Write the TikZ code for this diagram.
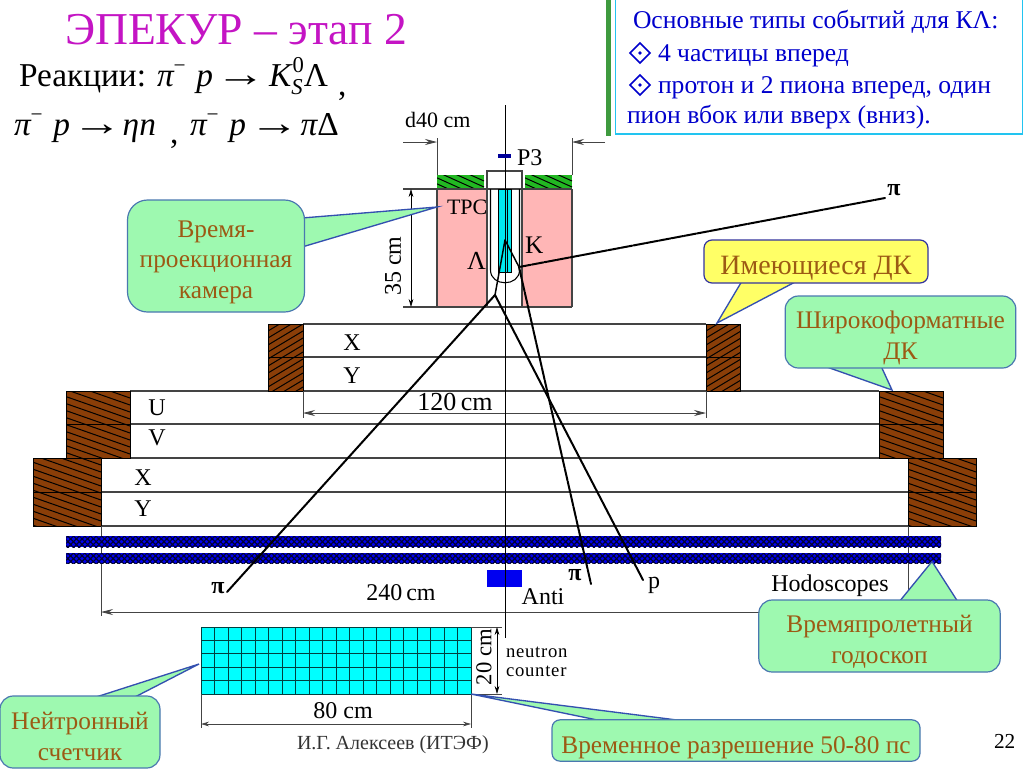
\documentclass[tikz,border=0pt]{standalone}
\usepackage{graphicx}
\usepackage{fontspec}
\setmainfont{Liberation Serif}
\usetikzlibrary{arrows.meta,patterns.meta}
\definecolor{titlec}{HTML}{C414C4}
\definecolor{boxblue}{HTML}{0000CC}
\definecolor{boxborder}{HTML}{22C4F0}
\definecolor{barg}{HTML}{3E9A3E}
\definecolor{calg}{HTML}{9EF9B0}
\definecolor{caly}{HTML}{FFFF66}
\definecolor{calb}{HTML}{4A78B0}
\definecolor{tailb}{HTML}{3450B0}
\definecolor{caltext}{HTML}{9C5A14}
\definecolor{chb}{HTML}{8A3E08}
\definecolor{pinkc}{HTML}{FFB6B6}
\definecolor{greenh}{HTML}{22B822}
\definecolor{cyanc}{HTML}{00E8F0}
\definecolor{gridc}{HTML}{00FFFF}
\definecolor{gline}{HTML}{444444}
\definecolor{blueh}{HTML}{0000F0}
\newfontfamily\spacedserif[LetterSpace=4]{Liberation Serif}
\newcommand\fs[1]{\fontsize{#1pt}{#1pt}\selectfont}
\newcommand\upm{\raisebox{.42em}{\fontsize{16pt}{16pt}\selectfont\upshape −}}
\newcommand\arr{{\upshape\scalebox{1.5}[1.1]{→}}}
% x1 y1 x2 y2 slope spacing fill
\newcommand\hatchrect[7]{%
  \fill[#7] (#1,#2) rectangle (#3,#4);
  \begin{scope}
    \clip (#1,#2) rectangle (#3,#4);
    \pgfmathsetmacro\hspn{abs(#5)*(#3-#1)+(#4-#2)}
    \pgfmathtruncatemacro\hnum{\hspn/#6+2}
    \foreach \kk in {0,...,\hnum}{
      \pgfmathsetmacro\ya{(#5>0 ? #2-#5*(#3-#1) : #2)+\kk*#6}
      \pgfmathsetmacro\yb{\ya+#5*(#3-#1)}
      \draw[black,line width=.75pt] (#1,\ya) -- (#3,\yb);
    }
  \end{scope}}
\tikzset{
  lbl/.style={inner sep=0pt,outer sep=0pt,text=black},
  det/.style={lbl,font=\fs{18}},
  chline/.style={draw=gline,line width=.9pt},
  thinline/.style={draw=gline,line width=.6pt},
  dimline/.style={draw=gline,line width=.6pt,-{Stealth[length=9pt,width=4.5pt,inset=3pt]}},
  dimboth/.style={draw=black,line width=.6pt,{Stealth[length=6pt,width=3.5pt,inset=2pt]}-{Stealth[length=6pt,width=3.5pt,inset=2pt]}},
  hodo/.style={draw=none,preaction={fill=blueh},pattern={Lines[angle=45,distance=3pt,line width=.9pt]},pattern color=black!80!blue,postaction={pattern={Lines[angle=-45,distance=3pt,line width=.9pt]},pattern color=black!80!blue}},
  track/.style={draw=black,line width=1.5pt,line cap=round},
  callout/.style={draw=calb,fill=calg,line width=.9pt,text=caltext,align=center,inner sep=0pt,font=\fs{19}},
  calltail/.style={draw=tailb,fill=calg,line width=1pt,line join=miter},
  bluetext/.style={lbl,text=boxblue,font=\fs{19.2}},
  bulletd/.style={draw=boxblue,line width=1.1pt,fill=white},
  chframe/.style={draw=black,line width=.7pt},
}
\begin{document}
\begin{tikzpicture}[x=0.75pt,y=-0.75pt]
\useasboundingbox (0,0) rectangle (1024,768);
\fill[white] (0,0) rectangle (1024,768);

% title and reactions
\node[lbl,anchor=base west,text=titlec,font=\fs{34.2}] (title) at (65,44) {ЭПЕКУР – этап 2};
\node[lbl,anchor=base west,font=\fs{25}] (reac) at (19,86) {Реакции:};
\node[lbl,anchor=base west,font=\fs{25}\itshape] (eqa) at (157,86) {π\upm\hspace{8pt}p\hspace{2pt}\arr\hspace{2.5pt}K\rlap{\raisebox{-.25em}{\fs{17}S}}\raisebox{.42em}{\fs{17}\upshape\hspace{1pt}0}\upshape Λ};
\node[lbl,anchor=base west,font=\fs{25}] (eqac) at (338,95) {,};
\node[lbl,anchor=base west,font=\fs{25}\itshape] (eqb) at (14,135) {π\upm\hspace{8pt}p\hspace{1.5pt}\arr\hspace{.5pt}ηn};
\node[lbl,anchor=base west,font=\fs{25}] (eqbc) at (170,143) {,};
\node[lbl,anchor=base west,font=\fs{25}\itshape] (eqd) at (190,135) {π\upm\hspace{8pt}p\hspace{2.5pt}\arr\hspace{1pt}π\upshape Δ};

% info box
\fill[barg] (606,0) rectangle (611,136);
\draw[boxborder,line width=1.3pt,fill=white] (615.5,-2) rectangle (1022.5,134);
\node[bluetext,anchor=base west] (ia) at (633,28) {Основные типы событий для КΛ:};
\node[bluetext,anchor=base west] (ib) at (658,61) {4 частицы вперед};
\node[bluetext,anchor=base west] (ic) at (658,93) {протон и 2 пиона вперед, один};
\node[bluetext,anchor=base west] (id) at (627,123) {пион вбок или вверх (вниз).};
\draw[bulletd] (630,53) -- (640,43) -- (650,53) -- (640,63) -- cycle;
\fill[boxblue] (640,53) circle (1.8);
\draw[bulletd] (630,85) -- (640,75) -- (650,85) -- (640,95) -- cycle;
\fill[boxblue] (640,85) circle (1.8);

% chambers
\draw[chline] (303,324) -- (706,324) (303,357) -- (706,357);
\draw[chline] (130,391) -- (879,391) (130,424) -- (879,424);
\draw[chline] (101,458) -- (908,458) (101,492) -- (908,492) (101,526) -- (908,526);
\hatchrect{268}{324}{303}{391}{-0.6}{7}{chb}
\hatchrect{706}{324}{740}{391}{-0.6}{7}{chb}
\hatchrect{66}{391}{130}{458}{0.35}{7}{chb}
\hatchrect{879}{391}{943}{458}{0.35}{7}{chb}
\hatchrect{33}{458}{101}{526}{0.35}{7}{chb}
\hatchrect{908}{458}{976}{526}{0.35}{7}{chb}
\draw[chframe] (268,324) rectangle (303,391) (706,324) rectangle (740,391) (66,391) rectangle (130,458) (879,391) rectangle (943,458) (33,458) rectangle (101,526) (908,458) rectangle (976,526);
\draw[chframe] (268,357) -- (303,357) (706,357) -- (740,357) (66,424) -- (130,424) (879,424) -- (943,424) (33,492) -- (101,492) (908,492) -- (976,492);

\node[det,anchor=base] (xa) at (352,350) {X};
\node[det,anchor=base] (ya) at (352,383) {Y};
\node[det,anchor=base] (ub) at (157,415) {U};
\node[det,anchor=base] (vb) at (157,445) {V};
\node[det,anchor=base] (xc) at (143,485) {X};
\node[det,anchor=base] (yc) at (143,516) {Y};

% dimension 120
\draw[thinline] (303,391) -- (303,418) (706,391) -- (706,418);
\coordinate (da) at (303,413);
\coordinate (db) at (706,413);
\coordinate (dm) at (504,413);
\draw[dimline] (dm) -- (da);
\draw[dimline] (dm) -- (db);
\node[det,anchor=base,font=\fs{19.5}] (d120) at (455,410) {120\,cm};

% hodoscopes
\draw[thinline] (101,526) -- (101,616) (908,526) -- (908,600);
\path[hodo] (66,536) rectangle (941,547);
\path[hodo] (66,553) rectangle (941,563);
\node[det,anchor=base] (hodot) at (830,591) {Hodoscopes};

% 240 cm
\coordinate (ea) at (101,612);
\coordinate (eb) at (780,612);
\draw[dimline] (eb) -- (ea);
\node[det,anchor=base] (d240) at (401,600) {240\,cm};

% anti
\fill[blueh] (487,570) rectangle (522,587);
\node[det,anchor=base] (anti) at (543,604) {Anti};

% axis
\coordinate (axa) at (505,105);
\coordinate (axb) at (505,638);

% TPC
\fill[pinkc] (437,189) rectangle (487,307);
\fill[pinkc] (522,189) rectangle (572,307);
\draw[thinline,line width=.8pt] (437,307) -- (437,189) (572,307) -- (572,189);
\hatchrect{437}{175}{484}{189}{0.45}{6}{greenh}
\hatchrect{525}{175}{572}{189}{0.45}{6}{greenh}
\draw[thinline,line width=.8pt] (487,307) -- (487,171) -- (522,171) -- (522,307);
\draw[thinline,line width=.8pt] (403,189) -- (572,189);
\draw[thinline,line width=.8pt] (403,307) -- (572,307);
\draw[fill=cyanc,draw=black,line width=.5pt] (498,189) rectangle (511,272);
\draw[black,line width=.5pt] (507,189) -- (507,272);
\draw[black,line width=.8pt] (490.5,189) -- (490.5,270) .. controls (490.5,287) and (519.5,287) .. (519.5,270) -- (519.5,189);
\draw[black,line width=.6pt] (axa) -- (axb);
\fill[black!40!blue] (498,154) rectangle (511,158);
\node[det,anchor=base west] (p3) at (517,165) {P3};
\node[det,anchor=base west,font=\fs{16.5}] (d40) at (405,127) {d40 cm};
\coordinate (ga) at (403,142);
\coordinate (gb) at (437,142);
\coordinate (gc) at (605,142);
\coordinate (gd) at (572,142);
\draw[dimline] (ga) -- (gb);
\draw[dimline] (gc) -- (gd);
\draw[thinline] (437,138) -- (437,175) (572,138) -- (572,175);
\coordinate (ha) at (411,189);
\coordinate (hb) at (411,307);
\draw[dimboth] (ha) -- (hb);
\node[det,anchor=center,rotate=90] (d35) at (393,266) {35 cm};
\node[det,anchor=base west,font=\fs{16.5}] (tpc) at (447,214) {TPC};
\node[det,anchor=base west,font=\fs{19}] (ktext) at (525,253) {K};
\node[det,anchor=base west,font=\fs{19.5}] (ltext) at (467,269) {Λ};

% tracks
\coordinate (vtx) at (505,240);
\coordinate (ld) at (495,295);
\coordinate (kd) at (519,267);
\coordinate (pil) at (227,592);
\coordinate (pip) at (643,580);
\coordinate (pid) at (591,584);
\coordinate (pir) at (885,198);
\draw[track,line width=1.1pt] (vtx) -- (ld);
\draw[track,line width=1.1pt] (vtx) -- (kd);
\draw[track] (ld) -- (pil);
\draw[track] (ld) -- (pip);
\draw[track,dash pattern=on 9pt off .7pt] (kd) -- (pid);
\draw[track,dash pattern=on 9pt off .7pt] (kd) -- (pir);
\node[det,anchor=base,font=\fs{18}\bfseries] (pia) at (894,195) {π};
\node[det,anchor=base,font=\fs{18}\bfseries] (pib) at (218,593) {π};
\node[det,anchor=base,font=\fs{18}\bfseries] (pic) at (575,580) {π};
\node[det,anchor=base] (ptext) at (654,588) {p};

% neutron counter
\fill[gridc] (201,627) rectangle (471,694);
\foreach \i in {0,...,20} \draw[black!50!teal,line width=.6pt] ({201+13.5*\i},627) -- ({201+13.5*\i},694);
\foreach \j in {0,...,5} \draw[black!50!teal,line width=.6pt] (201,{627+13.4*\j}) -- (471,{627+13.4*\j});
\draw[thinline] (201,694) -- (201,728) (471,694) -- (471,728);
\draw[thinline] (471,627) -- (502,627) (471,694) -- (502,694);
\coordinate (na) at (201,724);
\coordinate (nb) at (471,724);
\draw[dimboth,draw=gline] (na) -- (nb);
\node[det,anchor=base] (d80) at (343,718) {80 cm};
\coordinate (ma) at (497,627);
\coordinate (mb) at (497,694);
\draw[dimboth] (ma) -- (mb);
\node[det,anchor=center,rotate=90,font=\fs{17}] (d20) at (484,657) {20 cm};
\node[lbl,anchor=west,align=left,font=\spacedserif\fontsize{14pt}{14.5pt}\selectfont] (neua) at (506,662) {neutron\\counter};

% footer
\node[lbl,anchor=base west,font=\fs{15},text=black!80] (foot) at (297,749) {И.Г. Алексеев (ИТЭФ)};
\node[lbl,anchor=base west,font=\fs{16}] (page) at (994,748) {22};

% callouts
\coordinate (tipa) at (437,207);
\filldraw[calltail] (302,218) -- (tipa) -- (302,247);
\node[callout,rounded corners=15pt,minimum width=132.75pt,minimum height=84pt] (ca) at (216,256) {\rule{0pt}{22pt}Время-\\[4pt]проекционная\\[4pt]камера};

\coordinate (tipb) at (717,323);
\filldraw[calltail,fill=caly] (742,281) -- (tipb) -- (797,281);
\node[callout,fill=caly,draw=black!30!blue!60!gray,rounded corners=6pt,minimum width=168pt,minimum height=32.25pt,font=\fs{21}] (cb) at (816,261.5) {\rule{0pt}{23.5pt}Имеющиеся ДК};

\coordinate (tipc) at (892,390);
\filldraw[calltail] (824,366) -- (tipc) -- (881,366);
\node[callout,rounded corners=10pt,minimum width=173pt,minimum height=54pt] (cc) at (900.5,332) {\rule{0pt}{22pt}Широкоформатные\\[4pt]ДК};

\coordinate (tipd) at (932,561.5);
\filldraw[calltail] (899,602) -- (tipd) -- (958,602);
\node[callout,rounded corners=10pt,minimum width=181pt,minimum height=54pt] (cd) at (879.5,636) {\rule{0pt}{22pt}Времяпролетный\\[4pt]годоскоп};

\coordinate (tipe) at (471,694);
\filldraw[calltail] (607,722) -- (tipe) -- (693,722);
\node[callout,rounded corners=6pt,minimum width=276pt,minimum height=31pt] (ce) at (736,740.5) {\rule{0pt}{23.5pt}Временное разрешение 50-80 пс};

\coordinate (tipf) at (199,664);
\filldraw[calltail] (93,698) -- (tipf) -- (133,698);
\node[callout,rounded corners=10pt,minimum width=120pt,minimum height=54pt] (cf) at (80,732) {\rule{0pt}{20pt}Нейтронный\\[4pt]счетчик};
\end{tikzpicture}
\end{document}
